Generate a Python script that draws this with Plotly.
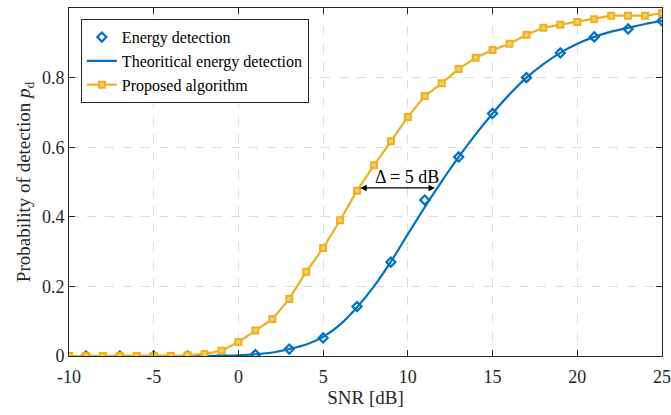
import plotly.graph_objects as go

# Energy detection (simulated) markers
ed_snr = [-9, -7, -5, -3, -1, 1, 3, 5, 7, 9, 11, 13, 15, 17, 19, 21, 23, 25]
ed_pd = [0.0, 0.0, 0.0, 0.0, 0.0, 0.004, 0.02, 0.052, 0.142, 0.27, 0.448, 0.572, 0.697, 0.80, 0.871, 0.917, 0.940, 0.963]

# Theoretical energy detection curve
th_snr = [-10, -9, -8, -7, -6, -5, -4, -3, -2, -1, 0, 1, 2, 3, 4, 5, 6, 7, 8, 9, 10, 11, 12, 13, 14, 15, 16, 17, 18, 19, 20, 21, 22, 23, 24, 25]
th_pd = [0.0, 0.0, 0.0, 0.0, 0.0, 0.0, 0.0, 0.0, 0.0005, 0.001, 0.002, 0.005, 0.01, 0.02, 0.033, 0.055, 0.09, 0.14, 0.2, 0.271, 0.35, 0.428, 0.502, 0.572, 0.637, 0.697, 0.752, 0.80, 0.839, 0.871, 0.897, 0.917, 0.932, 0.943, 0.954, 0.963]

# Proposed algorithm
pa_snr = [-10, -9, -8, -7, -6, -5, -4, -3, -2, -1, 0, 1, 2, 3, 4, 5, 6, 7, 8, 9, 10, 11, 12, 13, 14, 15, 16, 17, 18, 19, 20, 21, 22, 23, 24, 25]
pa_pd = [0.0, 0.0, 0.0, 0.0, 0.0, 0.0, 0.0, 0.002, 0.006, 0.015, 0.04, 0.073, 0.106, 0.164, 0.242, 0.31, 0.39, 0.475, 0.548, 0.617, 0.687, 0.747, 0.784, 0.825, 0.857, 0.879, 0.897, 0.923, 0.943, 0.952, 0.96, 0.968, 0.978, 0.978, 0.978, 0.985]

x_ticks = [-10, -5, 0, 5, 10, 15, 20, 25]
x_ticklabels = ["-10", "-5", "0", "5", "10", "15", "20", "25"]
y_ticks = [0, 0.2, 0.4, 0.6, 0.8, 1]
y_ticklabels = ["0", "0.2", "0.4", "0.6", "0.8", "1"]

BLUE = "#0072BD"
ORANGE = "#EDB120"
FONT = "Liberation Serif"

fig = go.Figure()
fig.add_trace(go.Scatter(
    x=ed_snr, y=ed_pd, mode="markers", name="Energy detection",
    marker=dict(symbol="diamond-open", size=7, color=BLUE, line=dict(width=2.2, color=BLUE)),
))
fig.add_trace(go.Scatter(
    x=th_snr, y=th_pd, mode="lines", name="Theoritical energy detection",
    line=dict(color=BLUE, width=2.2, shape="spline", smoothing=0.8),
))
fig.add_trace(go.Scatter(
    x=pa_snr, y=pa_pd, mode="lines+markers", name="Proposed algorithm",
    line=dict(color=ORANGE, width=2.2),
    marker=dict(symbol="square", size=6, color="#F3CC6E", line=dict(width=2, color=ORANGE)),
))

fig.add_annotation(
    x=11.6, y=0.483, ax=7.1, ay=0.483, xref="x", yref="y", axref="x", ayref="y",
    text="", showarrow=True, arrowhead=2, arrowside="end+start", arrowsize=1,
    arrowwidth=1.3, arrowcolor="black",
)
fig.add_annotation(
    x=9.95, y=0.483, xref="x", yref="y", text="Δ = 5 dB", showarrow=False,
    yshift=11, font=dict(family=FONT, size=18, color="black"),
)

axis_common = dict(
    showline=True, linecolor="#262626", linewidth=1, mirror="ticks",
    ticks="inside", ticklen=6, tickcolor="#262626",
    showgrid=True, gridcolor="#dcdcdc", griddash="dash", gridwidth=1,
    zeroline=False, automargin=False,
    tickfont=dict(family=FONT, size=18, color="#262626"),
)

fig.update_layout(
    width=671, height=415,
    margin=dict(l=69, r=9, t=8, b=59),
    paper_bgcolor="white", plot_bgcolor="white",
    font=dict(family=FONT, color="#262626"),
    xaxis=dict(range=[-10, 25], tickvals=x_ticks, ticktext=x_ticklabels,
               ticklabelstandoff=4,
               title=dict(text="SNR [dB]", font=dict(family=FONT, size=19), standoff=4),
               **axis_common),
    yaxis=dict(range=[0, 1], tickvals=y_ticks, ticktext=y_ticklabels,
               title=dict(text="Probability of detection <i>p</i><sub>d</sub>", font=dict(family=FONT, size=19), standoff=6),
               **axis_common),
    legend=dict(x=0.02, y=0.968, xanchor="left", yanchor="top",
                bgcolor="white", bordercolor="#262626", borderwidth=1,
                font=dict(family=FONT, size=16, color="black"),
                tracegroupgap=0),
    showlegend=True,
)

fig.write_html("out.html")
